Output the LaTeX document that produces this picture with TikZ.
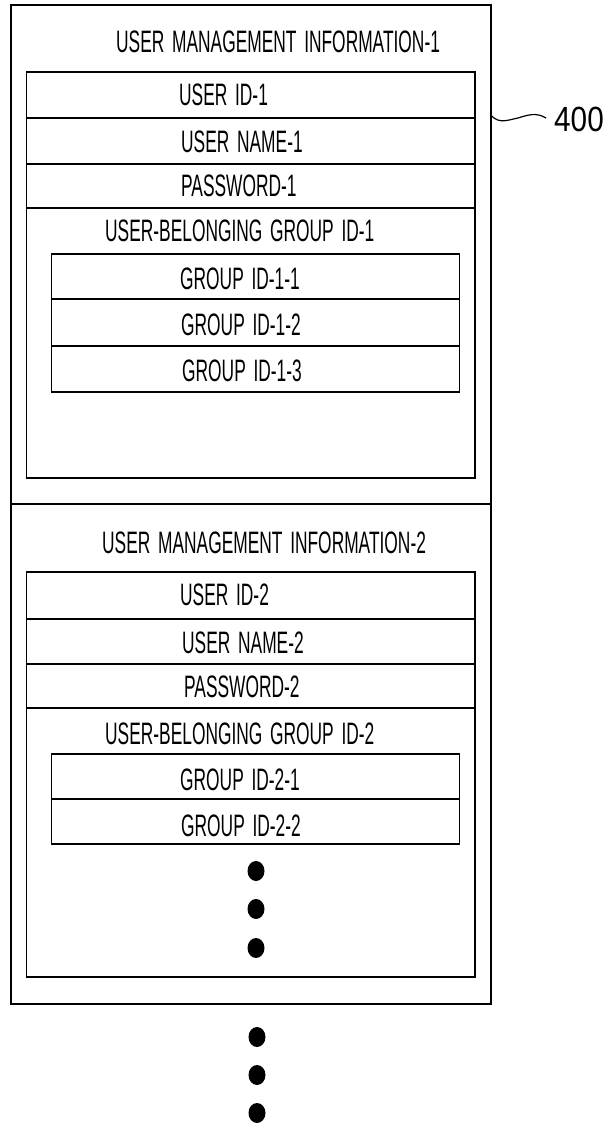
\documentclass[tikz,border=0pt]{standalone}
\usepackage{fontspec}
\newfontfamily\pfont[FakeStretch=0.56,WordSpace=1.6]{Liberation Sans}
\newfontfamily\nfont[FakeStretch=0.85]{Liberation Sans}
\usetikzlibrary{shapes.geometric}
\begin{document}
\begin{tikzpicture}[x=1pt,y=-1pt,
  box/.style={draw=black,line width=1.6pt,rectangle,inner sep=0pt,anchor=north west},
  txt/.style={anchor=west,inner sep=0pt,font=\pfont\fontsize{31}{32}\selectfont},
  dot/.style={ellipse,fill=black,inner sep=0pt,minimum width=17pt,minimum height=20pt},
  lead/.style={line width=1.2pt}]
\useasboundingbox (0,0) rectangle (607,1126);
% ---------- record 1 ----------
\node[box,minimum width=480pt,minimum height=499pt] (o1) at (10,4) {};
\node[txt] (t1) at (116,42) {USER MANAGEMENT INFORMATION-1};
\node[box,minimum width=448.5pt,minimum height=46pt] (uid1) at (25.5,71) {};
\node[box,minimum width=448.5pt,minimum height=46pt] (unm1) at (25.5,117) {};
\node[box,minimum width=448.5pt,minimum height=44pt] (pw1) at (25.5,163) {};
\node[box,minimum width=448.5pt,minimum height=270pt] (ubg1) at (25.5,207) {};
\node[txt] (uidt1) at (179,95) {USER ID-1};
\node[txt] (unmt1) at (181,142) {USER NAME-1};
\node[txt] (pwt1) at (181,185.5) {PASSWORD-1};
\node[txt] (ubgt1) at (105,231) {USER-BELONGING GROUP ID-1};
\node[box,minimum width=408pt,minimum height=45pt] (g11) at (50.6,253) {};
\node[box,minimum width=408pt,minimum height=47pt] (g12) at (50.6,298) {};
\node[box,minimum width=408pt,minimum height=46pt] (g13) at (50.6,345) {};
\node[txt] (g11t) at (180,279) {GROUP ID-1-1};
\node[txt] (g12t) at (181,325) {GROUP ID-1-2};
\node[txt] (g13t) at (182,371) {GROUP ID-1-3};
% ---------- record 2 ----------
\node[box,minimum width=480pt,minimum height=500pt] (o2) at (10,503) {};
\node[txt] (t2) at (102,542.5) {USER MANAGEMENT INFORMATION-2};
\node[box,minimum width=448.5pt,minimum height=47pt] (uid2) at (25.5,571) {};
\node[box,minimum width=448.5pt,minimum height=45pt] (unm2) at (25.5,618) {};
\node[box,minimum width=448.5pt,minimum height=44pt] (pw2) at (25.5,663) {};
\node[box,minimum width=448.5pt,minimum height=269pt] (ubg2) at (25.5,707) {};
\node[txt] (uidt2) at (180,595) {USER ID-2};
\node[txt] (unmt2) at (182,643) {USER NAME-2};
\node[txt] (pwt2) at (184,686.5) {PASSWORD-2};
\node[txt] (ubgt2) at (105,733.5) {USER-BELONGING GROUP ID-2};
\node[box,minimum width=408pt,minimum height=45pt] (g21) at (50.6,753) {};
\node[box,minimum width=408pt,minimum height=45pt] (g22) at (50.6,798) {};
\node[txt] (g21t) at (180,780) {GROUP ID-2-1};
\node[txt] (g22t) at (181,826) {GROUP ID-2-2};
\node[dot] (d1) at (256,871) {};
\node[dot] (d2) at (256,909) {};
\node[dot] (d3) at (256,948) {};
% ---------- trailing dots ----------
\node[dot] (e1) at (257,1037) {};
\node[dot] (e2) at (257,1075) {};
\node[dot] (e3) at (257,1113) {};
% ---------- reference label ----------
\node[inner sep=0pt,font=\nfont\fontsize{35}{36}\selectfont] (ref) at (579,119.5) {400};
\coordinate (leadend) at (546,118);
\draw[lead] ([yshift=-112pt]o1.north east) .. controls +(8,8) and +(-10,2) .. (518,118)
  .. controls +(10,-3) and +(-10,-6) .. (leadend);
\end{tikzpicture}
\end{document}
